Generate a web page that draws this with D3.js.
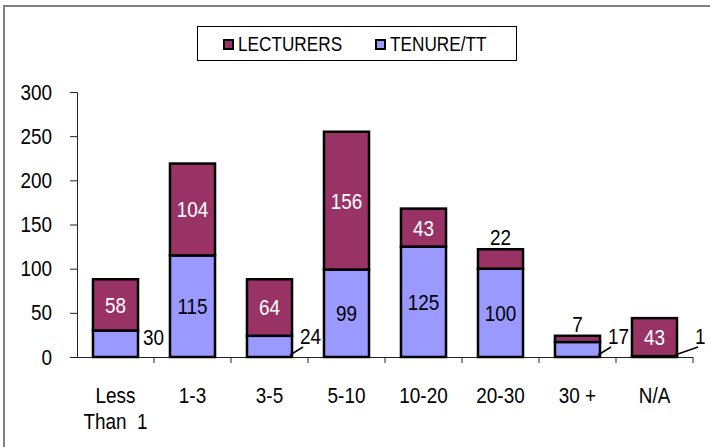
<!DOCTYPE html>
<html>
<head>
<meta charset="utf-8">
<script src="https://cdn.jsdelivr.net/npm/d3@7"></script>
<style>
  body { margin: 0; background: #fff; }
  text { font-family: "Liberation Sans", Arial, sans-serif; }
</style>
</head>
<body>
<div id="chart"></div>
<script>
// Data
var categories = ["Less Than  1", "1-3", "3-5", "5-10", "10-20", "20-30", "30 +", "N/A"];
var tenure = [30, 115, 24, 99, 125, 100, 17, 1];
var lecturers = [58, 104, 64, 156, 43, 22, 7, 43];
var yTicks = [0, 50, 100, 150, 200, 250, 300];

// where each label goes (inside bar, to the side, with a little leader line, above)
var tenureLabelPos = ["right", "in", "leader", "in", "in", "in", "leader", "leader"];
var lectLabelPos = ["in", "in", "in", "in", "in", "above", "above", "in"];

var W = 710, H = 447;
var colLect = "#993366", colTen = "#9999FF";
var K = 0.86; // the original font is a bit squeezed

var svg = d3.select("#chart")
    .append("svg")
    .attr("width", W)
    .attr("height", H);

// puts a text at px,py squeezed horizontally
function place(t, px, py) {
    return t.attr("x", 0).attr("y", 0)
        .attr("transform", "translate(" + px + "," + py + ") scale(" + K + ",1)");
}

// outer frame
svg.append("rect")
    .attr("x", 4).attr("y", 6)
    .attr("width", W + 10).attr("height", H + 10)
    .attr("fill", "none")
    .attr("stroke", "#808080")
    .attr("stroke-width", 2);

var x = d3.scaleBand()
    .domain(categories)
    .range([77, 693])
    .paddingInner(0.415)
    .paddingOuter(0.2075);

var y = d3.scaleLinear()
    .domain([0, 300])
    .range([357, 92]);

// Y axis
var yAxis = svg.append("g")
    .attr("transform", "translate(77,0)")
    .call(d3.axisLeft(y).tickValues(yTicks).tickSize(7).tickPadding(18));
yAxis.selectAll("text")
    .style("font-size", "22px")
    .attr("fill", "#000")
    .attr("x", -25 / K)
    .attr("transform", "scale(" + K + ",1)");
yAxis.select(".domain").attr("stroke", "#222");
yAxis.selectAll(".tick line").attr("stroke", "#222");

// X axis
var xAxis = svg.append("g")
    .attr("transform", "translate(0,357)")
    .call(d3.axisBottom(x).tickSize(0).tickFormat(""));
xAxis.select(".domain").attr("d", "M70,0.5H693").attr("stroke", "#222");

// ticks between categories
var bounds = d3.range(categories.length + 1).map(function(i) { return 77 + i * x.step(); });
svg.append("g").selectAll("line")
    .data(bounds.slice(1))
    .enter()
    .append("line")
    .attr("x1", function(d) { return d; })
    .attr("x2", function(d) { return d; })
    .attr("y1", 357).attr("y2", 363)
    .attr("stroke", "#222");

// category labels (two lines for the first)
categories.forEach(function(c) {
    var parts = c === "Less Than  1" ? ["Less", "Than  1"] : [c];
    parts.forEach(function(p, i) {
        var t = svg.append("text")
            .attr("text-anchor", "middle")
            .style("font-size", "22px")
            .style("white-space", "pre")
            .text(p);
        place(t, x(c) + x.bandwidth() / 2, 403 + i * 26);
    });
});

// Bars
var rows = categories.map(function(c, i) {
    return { cat: c, ten: tenure[i], lec: lecturers[i], i: i };
});

var bars = svg.append("g");
bars.selectAll(".ten")
    .data(rows)
    .enter()
    .append("rect")
    .attr("x", function(d) { return x(d.cat); })
    .attr("y", function(d) { return y(d.ten); })
    .attr("width", x.bandwidth())
    .attr("height", function(d) { return y(0) - y(d.ten); })
    .attr("fill", colTen)
    .attr("stroke", "#000")
    .attr("stroke-width", 2.5);

bars.selectAll(".lec")
    .data(rows)
    .enter()
    .append("rect")
    .attr("x", function(d) { return x(d.cat); })
    .attr("y", function(d) { return y(d.ten + d.lec); })
    .attr("width", x.bandwidth())
    .attr("height", function(d) { return y(d.ten) - y(d.ten + d.lec); })
    .attr("fill", colLect)
    .attr("stroke", "#000")
    .attr("stroke-width", 2.5);

// Labels
var labs = svg.append("g").style("font-size", "22px");
rows.forEach(function(d) {
    var cx = x(d.cat) + x.bandwidth() / 2;
    var right = x(d.cat) + x.bandwidth();

    // tenure label
    var tp = tenureLabelPos[d.i];
    if (tp === "in") {
        place(labs.append("text")
            .attr("dy", "0.36em")
            .attr("text-anchor", "middle")
            .attr("fill", "#000")
            .text(d.ten), cx, (y(0) + y(d.ten)) / 2);
    } else if (tp === "right") {
        place(labs.append("text")
            .attr("fill", "#000")
            .text(d.ten), right + 5, y(d.ten) + 14);
    } else {
        var gap = d.ten < 5 ? 18 : 8;
        labs.append("line")
            .attr("x1", right - 2).attr("y1", y(0) - 2)
            .attr("x2", right + gap + 3).attr("y2", y(0) - 10)
            .attr("stroke", "#000")
            .attr("stroke-width", 1.5);
        place(labs.append("text")
            .attr("fill", "#000")
            .text(d.ten), right + gap, 344);
    }

    // lecturer label
    var lp = lectLabelPos[d.i];
    if (lp === "in") {
        place(labs.append("text")
            .attr("dy", "0.36em")
            .attr("text-anchor", "middle")
            .attr("fill", "#fff")
            .text(d.lec), cx, (y(d.ten) + y(d.ten + d.lec)) / 2);
    } else {
        place(labs.append("text")
            .attr("text-anchor", "middle")
            .attr("fill", "#000")
            .text(d.lec), cx, y(d.ten + d.lec) - 4);
    }
});

// Legend
var leg = svg.append("g");
leg.append("rect")
    .attr("x", 197.5).attr("y", 26.5)
    .attr("width", 319).attr("height", 34)
    .attr("fill", "#fff")
    .attr("stroke", "#000");
var legItems = [
    { name: "LECTURERS", color: colLect, x: 223 },
    { name: "TENURE/TT", color: colTen, x: 375 }
];
legItems.forEach(function(it) {
    leg.append("rect")
        .attr("x", it.x + 1).attr("y", 40)
        .attr("width", 9).attr("height", 9)
        .attr("fill", it.color)
        .attr("stroke", "#000")
        .attr("stroke-width", 2);
    place(leg.append("text")
        .style("font-size", "20px")
        .text(it.name), it.x + 15, 51);
});
</script>
</body>
</html>
